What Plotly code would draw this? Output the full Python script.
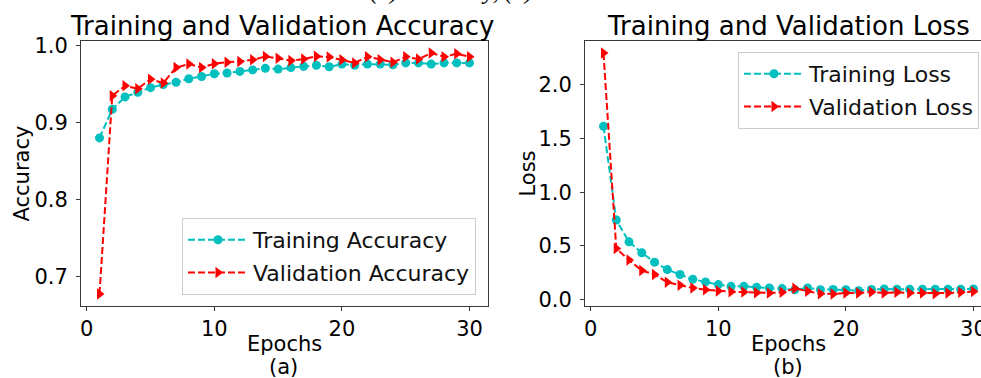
import plotly.graph_objects as go

epochs = list(range(1, 31))
train_acc = [0.880, 0.917, 0.933, 0.939, 0.945, 0.949, 0.952, 0.9565, 0.9595, 0.963,
             0.964, 0.966, 0.968, 0.970, 0.969, 0.971, 0.9725, 0.974, 0.972, 0.9755,
             0.974, 0.9755, 0.9755, 0.9746, 0.977, 0.977, 0.9755, 0.977, 0.977, 0.977]
val_acc = [0.678, 0.9345, 0.9475, 0.9436, 0.956, 0.951, 0.971, 0.9755, 0.971, 0.976,
           0.978, 0.979, 0.981, 0.9854, 0.983, 0.980, 0.982, 0.9855, 0.9846, 0.981,
           0.977, 0.985, 0.981, 0.978, 0.985, 0.982, 0.9898, 0.985, 0.9889, 0.985]
train_loss = [1.613, 0.741, 0.538, 0.436, 0.349, 0.280, 0.234, 0.190, 0.165, 0.140,
              0.124, 0.124, 0.115, 0.109, 0.103, 0.093, 0.109, 0.093, 0.095, 0.093,
              0.084, 0.095, 0.100, 0.097, 0.097, 0.097, 0.097, 0.097, 0.097, 0.100]
val_loss = [2.295, 0.476, 0.370, 0.271, 0.234, 0.162, 0.134, 0.109, 0.093, 0.080,
            0.073, 0.071, 0.065, 0.062, 0.068, 0.105, 0.078, 0.055, 0.053, 0.062,
            0.062, 0.071, 0.062, 0.068, 0.062, 0.062, 0.055, 0.062, 0.068, 0.075]

acc_ticks = [0.7, 0.8, 0.9, 1.0]
loss_ticks = [0.0, 0.5, 1.0, 1.5, 2.0]
x_ticks = [0, 10, 20, 30]

CYAN = "#00BFBF"
RED = "#FF0000"
FONT = "DejaVu Sans"
AX = "#3a3a3a"
W, H = 981, 378

def px_x(p):
    return p / W

def px_y(p):
    return 1 - p / H

fig = go.Figure()

def add_pair(x, y1, y2, n1, n2, xa, ya, leg):
    fig.add_trace(go.Scatter(x=x, y=y1, name=n1, mode="lines+markers",
                             line=dict(color=CYAN, width=2, dash="7px,3px"),
                             marker=dict(symbol="circle", size=9, color=CYAN),
                             xaxis=xa, yaxis=ya, legend=leg, legendgroup=n1))
    fig.add_trace(go.Scatter(x=x, y=y2, name=n2, mode="lines+markers",
                             line=dict(color=RED, width=2, dash="7px,3px"),
                             marker=dict(symbol="triangle-right", size=10, color=RED),
                             xaxis=xa, yaxis=ya, legend=leg, legendgroup=n2))

add_pair(epochs, train_acc, val_acc, "Training Accuracy", "Validation Accuracy", "x", "y", "legend")
add_pair(epochs, train_loss, val_loss, "Training Loss", "Validation Loss", "x2", "y2", "legend2")

ydom = [px_y(306), px_y(41)]
tickfont = dict(family=FONT, size=21, color="black")
common = dict(showgrid=False, zeroline=False, showline=True, linecolor=AX, linewidth=1,
              ticks="outside", ticklen=4, tickcolor=AX, tickfont=tickfont,
              automargin=False, ticklabeloverflow="allow")

legend_common = dict(bgcolor="rgba(255,255,255,0.8)", bordercolor="#cccccc", borderwidth=1,
                     font=dict(family=FONT, size=22, color="#111"),
                     traceorder="grouped", tracegroupgap=1, itemwidth=60)

fig.update_layout(
    width=W, height=H,
    margin=dict(l=0, r=0, t=0, b=0, autoexpand=False),
    paper_bgcolor="white", plot_bgcolor="white",
    font=dict(family=FONT, color="black"),
    xaxis=dict(domain=[px_x(81), px_x(488)], range=[-0.45, 31.45], tickvals=x_ticks,
               mirror=True, anchor="y", **common),
    yaxis=dict(domain=ydom, range=[0.6624, 1.0054], tickvals=acc_ticks, tickformat=".1f",
               mirror=True, anchor="x", ticklabelstandoff=4, **common),
    xaxis2=dict(domain=[px_x(585), 1.0], range=[-0.45, 30.59], tickvals=x_ticks,
                mirror=True, anchor="y2", **common),
    yaxis2=dict(domain=ydom, range=[-0.059, 2.407], tickvals=loss_ticks, tickformat=".1f",
                mirror=False, anchor="x2", ticklabelstandoff=4, **common),
    legend=dict(x=px_x(182), y=px_y(295), xanchor="left", yanchor="bottom", **legend_common),
    legend2=dict(x=px_x(738), y=px_y(52), xanchor="left", yanchor="top", **legend_common),
    showlegend=True,
)

def ann(text, x, y, size, xanchor="center", yanchor="middle", angle=0, fam=FONT, color="black"):
    fig.add_annotation(text=text, x=px_x(x), y=px_y(y), xref="paper", yref="paper",
                       showarrow=False, xanchor=xanchor, yanchor=yanchor, textangle=angle,
                       font=dict(family=fam, size=size, color=color))

ann("Training and Validation Accuracy", 282, 26, 26)
ann("Training and Validation Loss", 788, 26, 26)
ann("Accuracy", 21, 173.5, 21, angle=-90)
ann("Loss", 527, 173.5, 21, angle=-90)
ann("Epochs", 284, 344, 21)
ann("Epochs", 788, 344, 21)
ann("(a)", 283, 367, 21)
ann("(b)", 788, 367, 21)
ann("<i>(a) Accuracy, (b) Loss</i>", 368, 6, 24, xanchor="left", yanchor="bottom",
    fam="Liberation Serif")

fig.write_html("out.html", config={"displayModeBar": False},
               post_script="document.body.style.margin='0px';document.body.style.overflow='hidden';")
